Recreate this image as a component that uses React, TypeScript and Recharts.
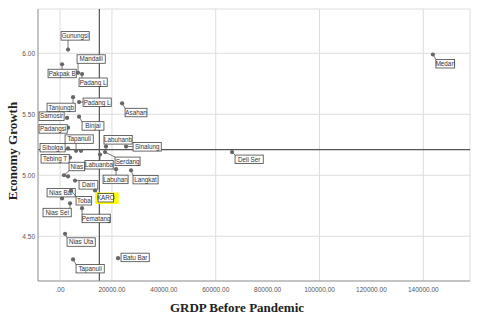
import { ScatterChart, Scatter, XAxis, YAxis, CartesianGrid, ReferenceLine, Label } from 'recharts';

// regencies / cities, as labelled in the plot
const names = [
  'Gunungsi', 'Pakpak B', 'Mandaili', 'Padang L', 'Padang L', 'Tanjungb', 'Samosir', 'Binjai',
  'Padangsi', 'Tapanuli', 'Sibolga', 'Tebing T', '', 'Nias', '', 'Labuanba', 'Labuhanb',
  'Serdang', 'Sinalung', 'Asahan', 'Labuhan', 'Langkat', 'Deli Ser', 'Medan', 'Batu Bar',
  'Dairi', 'Nias Bar', 'Toba', 'KARO', 'Nias Sel', 'Pematang', 'Nias Uta', 'Tapanuli',
];
const grdp = [
  3080, 770, 6940, 8480, 7320, 5010, 2700, 7320,
  3080, 6170, 3080, 3850, 8090, 1540, 3080, 15400, 17700,
  17340, 25440, 23900, 21580, 27360, 66290, 143700, 22350,
  5780, 770, 4240, 13490, 3850, 8480, 1930, 5010,
];
const growth = [
  6.03, 5.91, 5.84, 5.83, 5.6, 5.64, 5.47, 5.48,
  5.39, 5.2, 5.22, 5.145, 5.2, 5.0, 4.99, 5.17, 5.235,
  5.19, 5.235, 5.59, 5.05, 5.04, 5.19, 5.99, 4.32,
  4.956, 4.81, 4.875, 4.875, 4.77, 4.73, 4.52, 4.31,
];
const xTicks = [0, 20000, 40000, 60000, 80000, 100000, 120000, 140000];
const yTicks = [4.5, 5.0, 5.5, 6.0];
const meanGrdp = 15150;
const meanGrowth = 5.21;

// where each label box sits relative to its point (left, top)
const labelPos: [number, number][] = [
  [-7, -18], [-14, 5], [-1, -18], [-3, 4], [4, -4], [-26, 6], [-28, -6], [3, 5],
  [-29, -3], [-11, -16], [-28, -5], [-29, -3], [0, 0], [5, -13], [0, 0], [-15, 6], [-2, -11],
  [10, 5], [7, -4], [3, 5], [-13, 6], [2, 5], [3, 3], [3, 5], [3, -5],
  [4, 0], [-15, -10], [5, 6], [3, 3], [-27, 5], [0, 6], [2, 4], [3, 5],
];

const data = names.map((name, i) => ({ name, x: grdp[i], y: growth[i], i }));

const tickFont = { fontSize: 6.5, fill: '#555', fontFamily: 'Liberation Sans, Arial, sans-serif' };

const Point = (props: any) => {
  const { cx, cy, payload } = props;
  if (cx == null || cy == null) return null;
  const name = payload.name;
  if (!name) return <circle cx={cx} cy={cy} r={2.1} fill="#666" />;
  const [dx, dy] = labelPos[payload.i];
  const w = name.length * 3.15 + 3;
  const h = 8.5;
  const bx = cx + dx;
  const by = cy + dy;
  // leader line to nearest point of the box
  const nx = Math.max(bx, Math.min(cx, bx + w));
  const ny = Math.max(by, Math.min(cy, by + h));
  const dist = Math.hypot(nx - cx, ny - cy);
  return (
    <g>
      {dist > 3 && <line x1={cx} y1={cy} x2={nx} y2={ny} stroke="#555" strokeWidth={0.8} />}
      <circle cx={cx} cy={cy} r={2.1} fill="#666" />
      {name === 'KARO' && <rect x={bx - 3} y={by - 1} width={w + 8} height={h + 3} fill="#ffff00" />}
      <rect x={bx} y={by} width={w} height={h} fill="#fff" stroke="#444" strokeWidth={0.8} />
      <text x={bx + w / 2} y={by + h - 2} textAnchor="middle" fontSize={6.3} fill="#333"
        fontFamily="Liberation Sans, Arial, sans-serif">{name}</text>
    </g>
  );
};

export default function App() {
  return (
    <div style={{ position: 'absolute', left: 0, top: 0, width: 480, height: 320, background: '#fff' }}>
      <ScatterChart width={480} height={320} margin={{ top: 9, right: 10, left: 0, bottom: 0 }}>
        <CartesianGrid stroke="#ddd" strokeWidth={1} />
        <XAxis type="number" dataKey="x" domain={[-8500, 158000]} ticks={xTicks} allowDataOverflow
          tickFormatter={(v: number) => (v === 0 ? '.00' : v.toFixed(2))}
          tick={tickFont} tickLine={false} tickSize={0} tickMargin={6} height={39}
          axisLine={{ stroke: '#999' }}>
          <Label content={() => (
            <text x={237} y={312} textAnchor="middle" fontSize={13} fontWeight="bold"
              fontFamily="Liberation Serif, Times New Roman, serif" fill="#222">GRDP Before Pandemic</text>
          )} />
        </XAxis>
        <YAxis type="number" dataKey="y" domain={[4.133, 6.363]} ticks={yTicks} allowDataOverflow
          tickFormatter={(v: number) => v.toFixed(2)}
          tick={tickFont} tickLine={false} tickSize={0} tickMargin={3} width={38}
          axisLine={{ stroke: '#999' }}>
          <Label content={() => (
            <text x={17} y={151} transform="rotate(-90 17 151)" textAnchor="middle" fontSize={13}
              fontWeight="bold" fontFamily="Liberation Serif, Times New Roman, serif" fill="#222">Economy Growth</text>
          )} />
        </YAxis>
        <ReferenceLine x={meanGrdp} stroke="#555" strokeWidth={1.2} />
        <ReferenceLine y={meanGrowth} stroke="#555" strokeWidth={1.2} />
        <Scatter data={data} shape={Point} isAnimationActive={false} />
      </ScatterChart>
    </div>
  );
}
